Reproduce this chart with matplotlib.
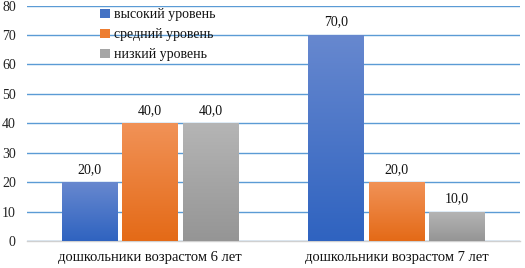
import matplotlib
matplotlib.use("Agg")
import matplotlib.pyplot as plt
import numpy as np
from matplotlib.colors import LinearSegmentedColormap

categories = ["дошкольники возрастом 6 лет", "дошкольники возрастом 7 лет"]
series_names = ["высокий уровень", "средний уровень", "низкий уровень"]
high = [20.0, 70.0]
mid = [40.0, 20.0]
low = [40.0, 10.0]
yticks = [0, 10, 20, 30, 40, 50, 60, 70, 80]

colors_top = ["#6788CF", "#F19257", "#B5B5B5"]
colors_bot = ["#2F63C0", "#E46A17", "#959595"]
colors_mid = ["#4472C4", "#ED7D31", "#A5A5A5"]

plt.rcParams['font.family'] = ['Liberation Serif', 'DejaVu Serif']

fig = plt.figure(figsize=(5.25, 2.68), dpi=100)
ax = fig.add_axes([0.0514, 0.1007, 0.9386, 0.8783])

x = np.arange(len(categories))
w = 0.227
gap = 0.018
offsets = [-(w + gap), 0, (w + gap)]
data = [high, mid, low]
handles = []
for i, (vals, name) in enumerate(zip(data, series_names)):
    bars = ax.bar(x + offsets[i], vals, width=w, color=colors_mid[i], label=name, zorder=3)
    handles.append(bars)
    cmap = LinearSegmentedColormap.from_list("g%d" % i, [colors_bot[i], colors_top[i]])
    grad = np.linspace(0, 1, 256).reshape(-1, 1)
    for b, v in zip(bars, vals):
        bx, by = b.get_x(), b.get_y()
        bw, bh = b.get_width(), b.get_height()
        im = ax.imshow(grad, cmap=cmap, origin="lower", aspect="auto",
                       extent=[bx, bx + bw, by, by + bh], zorder=3.5)
        im.set_clip_path(b)
        ax.text(bx + bw / 2, v + 4.4, f"{v:.1f}".replace(".", ","), ha="center", va="center",
                fontsize=10, color="#111111", zorder=5)

ax.set_xlim(-0.5, 1.5)
ax.set_ylim(0, 80)
ax.set_yticks(yticks)
ax.set_yticklabels([str(t) for t in yticks], fontsize=10, color="#222222")
ax.set_xticks(x)
ax.set_xticklabels(categories, fontsize=10.5, color="#111111")
ax.tick_params(axis="both", length=0)
ax.tick_params(axis="y", pad=8)
ax.tick_params(axis="x", pad=7)
ax.yaxis.grid(True, color="#5B9BD5", linewidth=1.0, zorder=0)
ax.set_axisbelow(True)
for s in ["top", "right", "left"]:
    ax.spines[s].set_visible(False)
ax.spines["bottom"].set_color("#D0D0D0")
ax.spines["bottom"].set_linewidth(1.0)

leg = ax.legend(handles=handles, labels=series_names, loc="upper left",
                bbox_to_anchor=(0.137, 1.012), frameon=False, fontsize=10,
                handlelength=0.7, handleheight=0.7, handletextpad=0.3,
                labelspacing=0.5, borderaxespad=0)
for t in leg.get_texts():
    t.set_color("#111111")

fig.savefig("out.png", dpi=100, facecolor="white")
